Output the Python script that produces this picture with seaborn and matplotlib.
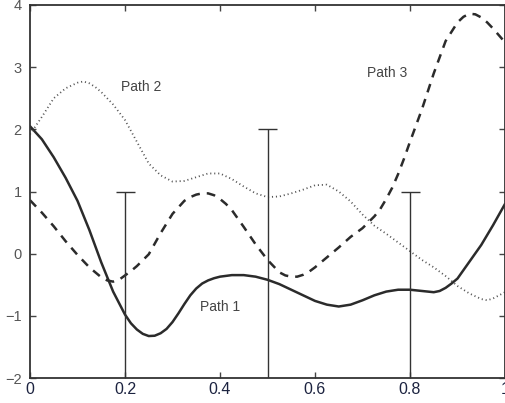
import pandas as pd
import matplotlib
matplotlib.use("Agg")
import matplotlib.pyplot as plt
import seaborn as sns

# -----------------------------
# Data
# -----------------------------
path1_x = [0, 0.025, 0.05, 0.075, 0.1, 0.125, 0.15, 0.175, 0.2, 0.2125,
           0.225, 0.2375, 0.25, 0.2625, 0.275, 0.2875, 0.3, 0.3125, 0.325, 0.3375,
           0.35, 0.3625, 0.375, 0.3875, 0.4, 0.425, 0.45, 0.475, 0.5, 0.525,
           0.55, 0.575, 0.6, 0.625, 0.65, 0.675, 0.7, 0.725, 0.75, 0.775,
           0.8, 0.825, 0.85, 0.8625, 0.875, 0.8875, 0.9, 0.925, 0.95, 0.975, 1.0]
path1_y = [2.05, 1.84, 1.55, 1.22, 0.85, 0.38, -0.14, -0.61, -0.98, -1.12,
           -1.22, -1.29, -1.325, -1.32, -1.28, -1.21, -1.10, -0.96, -0.81, -0.67,
           -0.56, -0.48, -0.43, -0.395, -0.37, -0.345, -0.345, -0.37, -0.42, -0.49,
           -0.58, -0.67, -0.76, -0.82, -0.85, -0.82, -0.75, -0.67, -0.61, -0.58,
           -0.58, -0.60, -0.62, -0.60, -0.55, -0.48, -0.40, -0.13, 0.14, 0.46, 0.80]

path2_x = [0, 0.025, 0.05, 0.075, 0.1, 0.1125, 0.125, 0.1375, 0.15, 0.175,
           0.2, 0.225, 0.25, 0.275, 0.3, 0.325, 0.35, 0.375, 0.4, 0.425,
           0.45, 0.475, 0.5, 0.525, 0.55, 0.575, 0.6, 0.625, 0.65, 0.675,
           0.7, 0.725, 0.75, 0.775, 0.8, 0.825, 0.85, 0.875, 0.9, 0.925,
           0.95, 0.9625, 0.975, 1.0]
path2_y = [1.92, 2.20, 2.50, 2.66, 2.75, 2.77, 2.74, 2.68, 2.60, 2.40,
           2.15, 1.80, 1.45, 1.26, 1.16, 1.17, 1.23, 1.29, 1.29, 1.20,
           1.08, 0.97, 0.91, 0.92, 0.97, 1.03, 1.10, 1.11, 1.00, 0.84,
           0.63, 0.45, 0.32, 0.18, 0.04, -0.10, -0.22, -0.36, -0.52, -0.64,
           -0.73, -0.75, -0.72, -0.62]

path3_x = [0, 0.025, 0.05, 0.075, 0.1, 0.125, 0.15, 0.1625, 0.175, 0.1875,
           0.2, 0.2125, 0.225, 0.25, 0.275, 0.3, 0.325, 0.3375, 0.35, 0.3625,
           0.375, 0.3875, 0.4, 0.4125, 0.425, 0.45, 0.475, 0.5, 0.525, 0.5375,
           0.55, 0.5625, 0.575, 0.5875, 0.6, 0.625, 0.65, 0.675, 0.7, 0.725,
           0.7375, 0.75, 0.7625, 0.775, 0.7875, 0.8, 0.825, 0.85, 0.875, 0.9,
           0.9125, 0.925, 0.9375, 0.95, 0.9625, 0.975, 1.0]
path3_y = [0.86, 0.66, 0.44, 0.20, -0.02, -0.22, -0.38, -0.43, -0.45, -0.42,
           -0.35, -0.28, -0.20, -0.01, 0.33, 0.64, 0.85, 0.91, 0.95, 0.97,
           0.97, 0.94, 0.88, 0.80, 0.70, 0.43, 0.15, -0.10, -0.30, -0.35,
           -0.37, -0.37, -0.34, -0.29, -0.22, -0.06, 0.10, 0.27, 0.41, 0.60,
           0.72, 0.88, 1.06, 1.28, 1.53, 1.80, 2.32, 2.90, 3.42, 3.72,
           3.81, 3.86, 3.85, 3.80, 3.72, 3.62, 3.40]

bar_x = [0.2, 0.5, 0.8]
bar_top = [1.0, 2.0, 1.0]

labels = ["Path 1", "Path 2", "Path 3"]
label_x = [0.40, 0.234, 0.752]
label_y = [-0.85, 2.68, 2.90]

xticks = [0, 0.2, 0.4, 0.6, 0.8, 1.0]
xtick_labels = ["0", "0.2", "0.4", "0.6", "0.8", "1"]
yticks = [-2, -1, 0, 1, 2, 3, 4]

df1 = pd.DataFrame({"x": path1_x, "y": path1_y})
df2 = pd.DataFrame({"x": path2_x, "y": path2_y})
df3 = pd.DataFrame({"x": path3_x, "y": path3_y})

# -----------------------------
# Plot
# -----------------------------
sns.set_style("ticks")
plt.rcParams["font.family"] = ["Liberation Sans", "DejaVu Sans"]

fig = plt.figure(figsize=(5.05, 4.03), dpi=100)
ax = fig.add_axes([30 / 505, 25 / 403, 475 / 505, 373 / 403])

line_col = "#2b2b2b"

# Path 1: solid
sns.lineplot(data=df1, x="x", y="y", ax=ax, color=line_col,
             linewidth=1.8, estimator=None, sort=False)
# Path 3: dashed
sns.lineplot(data=df3, x="x", y="y", ax=ax, color=line_col,
             linewidth=1.8, linestyle=(0, (3.5, 2.8)), estimator=None, sort=False)
# Path 2: dotted
sns.lineplot(data=df2, x="x", y="y", ax=ax, color="#555555",
             linewidth=1.3, linestyle=(0, (0.6, 1.6)), estimator=None, sort=False)

for ln in ax.lines:
    ln.set_solid_joinstyle("round")
    ln.set_dash_joinstyle("round")

# vertical markers with caps
cap = 0.02
ax.vlines(bar_x, -2, bar_top, color="#333333", linewidth=1.0)
ax.hlines(bar_top, [b - cap for b in bar_x], [b + cap for b in bar_x],
          color="#333333", linewidth=1.0)

for t, lx, ly in zip(labels, label_x, label_y):
    ax.text(lx, ly, t, ha="center", va="center", fontsize=10, color="#444444")

ax.set_xlim(0, 1)
ax.set_ylim(-2, 4)
ax.set_xticks(xticks)
ax.set_xticklabels(xtick_labels)
ax.set_yticks(yticks)
ax.set_xlabel("")
ax.set_ylabel("")

ax.tick_params(direction="in", length=4, width=1, top=True, right=True,
               colors="#444444")
ax.tick_params(axis="x", labelsize=11.5, labelcolor="#1c2340", pad=3)
ax.tick_params(axis="y", labelsize=10.5, labelcolor="#555555", pad=6)
for s in ax.spines.values():
    s.set_color("#333333")
    s.set_linewidth(1.3)

fig.savefig("out.png", dpi=100)
